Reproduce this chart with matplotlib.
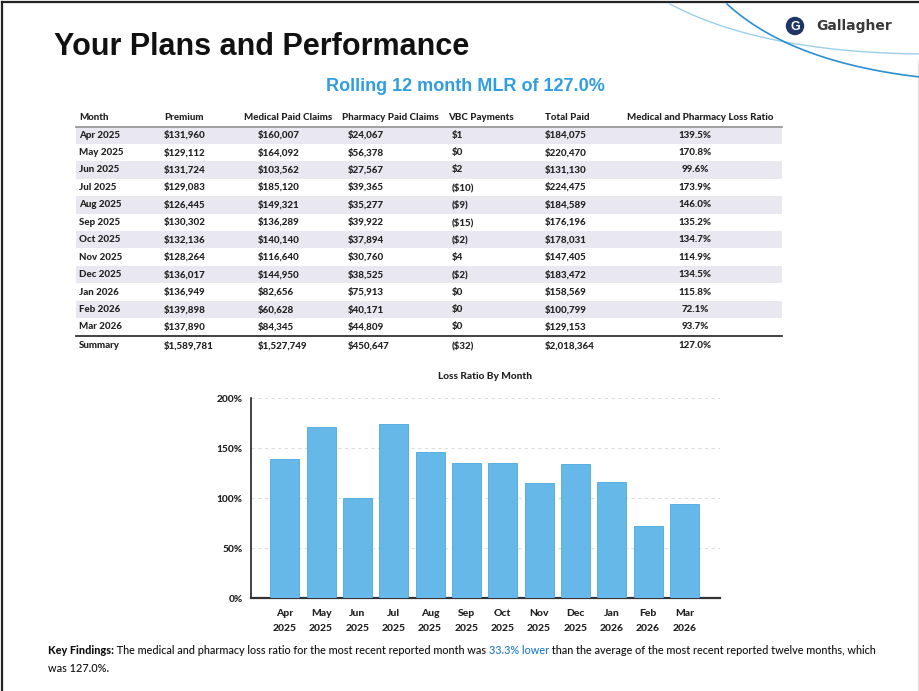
import matplotlib
matplotlib.use("Agg")
import matplotlib.pyplot as plt
import numpy as np
from matplotlib.patches import Circle, Rectangle

# table data
months = ["Apr 2025", "May 2025", "Jun 2025", "Jul 2025", "Aug 2025", "Sep 2025",
          "Oct 2025", "Nov 2025", "Dec 2025", "Jan 2026", "Feb 2026", "Mar 2026"]
premium = [131960, 129112, 131724, 129083, 126445, 130302, 132136, 128264, 136017, 136949, 139898, 137890]
medical = [160007, 164092, 103562, 185120, 149321, 136289, 140140, 116640, 144950, 82656, 60628, 84345]
pharmacy = [24067, 56378, 27567, 39365, 35277, 39922, 37894, 30760, 38525, 75913, 40171, 44809]
vbc = [1, 0, 2, -10, -9, -15, -2, 4, -2, 0, 0, 0]
total_paid = [184075, 220470, 131130, 224475, 184589, 176196, 178031, 147405, 183472, 158569, 100799, 129153]
loss_ratio = [139.5, 170.8, 99.6, 173.9, 146.0, 135.2, 134.7, 114.9, 134.5, 115.8, 72.1, 93.7]
summary = ["Summary", 1589781, 1527749, 450647, -32, 2018364, 127.0]

headers = ["Month", "Premium", "Medical Paid Claims", "Pharmacy Paid Claims",
           "VBC Payments", "Total Paid", "Medical and Pharmacy Loss Ratio"]
bar_labels = ["Apr\n2025", "May\n2025", "Jun\n2025", "Jul\n2025", "Aug\n2025", "Sep\n2025",
              "Oct\n2025", "Nov\n2025", "Dec\n2025", "Jan\n2026", "Feb\n2026", "Mar\n2026"]


def money(v):
    if v < 0:
        return "(${:,})".format(-v)
    return "${:,}".format(v)


fig = plt.figure(figsize=(9.2, 6.91), dpi=100)
fig.patch.set_facecolor("white")

# full page axes in pixel coordinates
bg = fig.add_axes([0, 0, 1, 1])
bg.set_xlim(0, 920)
bg.set_ylim(691, 0)
bg.axis("off")

# slide border
bg.plot([2, 918], [2, 2], color="#222222", lw=1.6)
bg.plot([2, 2], [2, 691], color="#222222", lw=1.6)
bg.plot([918, 918], [60, 691], color="#e6e6e6", lw=1)

# decorative swooshes
t = np.linspace(0, 1, 100)
for p0, p1, p2, c, w in [((670, 4), (760, 52), (920, 54), "#9ccfea", 1.0),
                         ((727, 4), (790, 62), (920, 77), "#2b8fd0", 1.2)]:
    xs = (1 - t) ** 2 * p0[0] + 2 * (1 - t) * t * p1[0] + t ** 2 * p2[0]
    ys = (1 - t) ** 2 * p0[1] + 2 * (1 - t) * t * p1[1] + t ** 2 * p2[1]
    bg.plot(xs, ys, color=c, lw=w)

# logo
bg.add_patch(Circle((795, 26), 8.5, color="#1f3566", zorder=5))
bg.text(795, 26.5, "G", color="white", fontsize=9, fontweight="bold",
        ha="center", va="center", family="Liberation Sans", zorder=6)
bg.text(816, 26, "Gallagher", color="#3a3a3a", fontsize=10, fontweight="bold",
        ha="left", va="center", family="Liberation Sans Narrow")

# titles
bg.text(54, 47, "Your Plans and Performance", fontsize=22, fontweight="bold",
        color="#111111", ha="left", va="center", family="Liberation Sans")
bg.text(465, 86, "Rolling 12 month MLR of 127.0%", fontsize=13, fontweight="bold",
        color="#2f9ee0", ha="center", va="center", family="Liberation Sans")

# table
tfont = dict(family="Lato", fontsize=7, fontweight="black", color="#222222", va="center")
head_x = [79, 164, 244, 342, 448, 545, 700]
head_ha = ["left", "left", "left", "left", "left", "left", "center"]
val_x = [79, 164, 258, 348, 452, 545, 695]
val_ha = ["left", "left", "left", "left", "left", "left", "center"]

y_head = 117
y0 = 135
dy = 17.45
for x, ha, h in zip(head_x, head_ha, headers):
    bg.text(x, y_head, h, ha=ha, **tfont)
bg.plot([76, 782], [126.5, 126.5], color="#9a9a9a", lw=1.3)

for i in range(len(months)):
    y = y0 + i * dy
    if i % 2 == 0:
        bg.add_patch(Rectangle((76, y - dy / 2), 706, dy, color="#e9e7ef", lw=0, zorder=0))
    row = [months[i], money(premium[i]), money(medical[i]), money(pharmacy[i]),
           money(vbc[i]), money(total_paid[i]), "{:.1f}%".format(loss_ratio[i])]
    for x, ha, s in zip(val_x, val_ha, row):
        bg.text(x, y, s, ha=ha, **tfont)

y_sum = y0 + 11 * dy + 19
bg.plot([76, 782], [y_sum - 9.5, y_sum - 9.5], color="#333333", lw=1.3)
srow = [summary[0], money(summary[1]), money(summary[2]), money(summary[3]),
        money(summary[4]), money(summary[5]), "{:.1f}%".format(summary[6])]
for x, ha, s in zip(val_x, val_ha, srow):
    bg.text(x, y_sum, s, ha=ha, **tfont)

# bar chart
ax = fig.add_axes([251 / 920, 1 - 598 / 691, (720 - 251) / 920, 200 / 691])
xpos = np.arange(len(loss_ratio))
ax.bar(xpos, loss_ratio, width=0.8, color="#66b8e9", edgecolor="#4aa8e0", lw=0.6, zorder=3)
ax.set_xlim(-0.93, 11.98)
ax.set_ylim(0, 200)
ax.set_yticks([0, 50, 100, 150, 200])
ax.set_yticklabels(["0%", "50%", "100%", "150%", "200%"])
ax.set_xticks(xpos)
ax.set_xticklabels(bar_labels, linespacing=1.8)
ax.tick_params(axis="x", length=0, pad=8, labelsize=7.5, labelcolor="#222222")
ax.tick_params(axis="y", length=0, pad=6, labelsize=7.3, labelcolor="#222222")
for lab in ax.get_xticklabels() + ax.get_yticklabels():
    lab.set_family("Lato")
    lab.set_fontweight("black")
ax.grid(axis="y", color="#dddddd", lw=0.8, ls=(0, (3, 3)), zorder=0)
for s in ["top", "right"]:
    ax.spines[s].set_visible(False)
ax.spines["left"].set_color("#222222")
ax.spines["left"].set_linewidth(1.2)
ax.spines["bottom"].set_color("#333333")
ax.spines["bottom"].set_linewidth(1.6)
ax.set_title("Loss Ratio By Month", fontsize=7.3, fontweight="black", family="Lato",
             color="#222222", pad=14)

# key findings text, placed piece by piece
fig.canvas.draw()
r = fig.canvas.get_renderer()
ffont = dict(family="Lato", fontsize=7.8, va="center")
pieces = [("Key Findings:", "black", "#111111"),
          (" The medical and pharmacy loss ratio for the most recent reported month was ", "medium", "#111111"),
          ("33.3% lower", "medium", "#1f78c8"),
          (" than the average of the most recent reported twelve months, which", "medium", "#111111")]
x = 48
for s, w, c in pieces:
    tx = bg.text(x, 651, s, fontweight=w, color=c, **ffont)
    bb = tx.get_window_extent(renderer=r)
    x += bb.width
bg.text(48, 668, "was 127.0%.", color="#111111", fontweight="medium", **ffont)

fig.savefig("out.png", dpi=100)
